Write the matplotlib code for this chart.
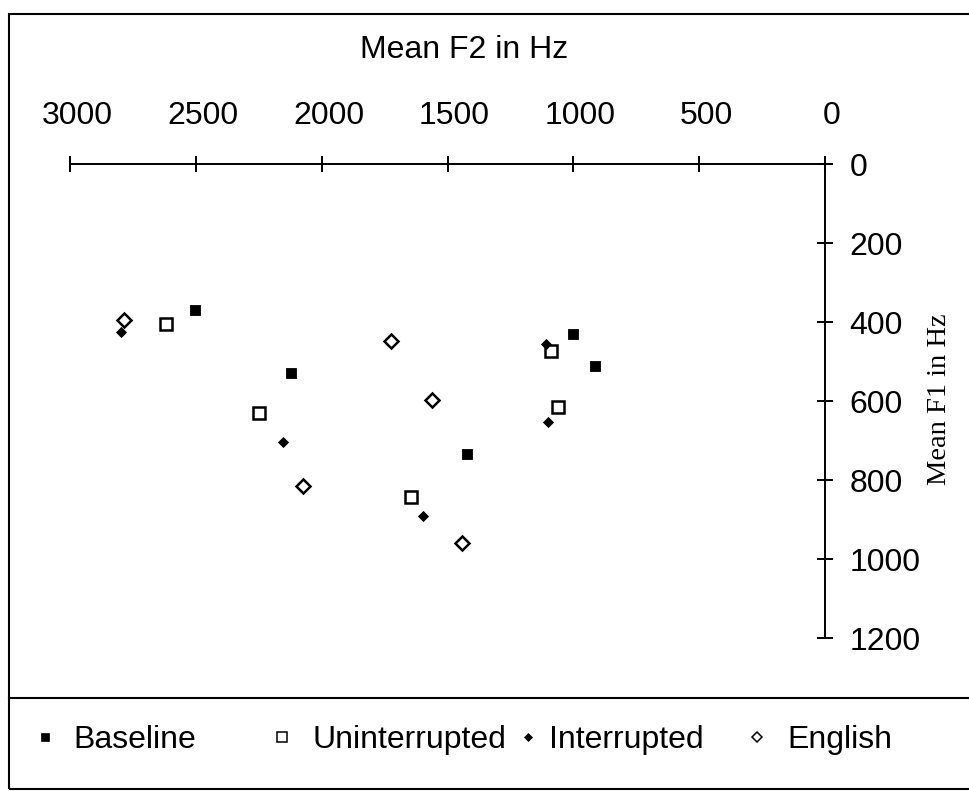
import matplotlib
matplotlib.use("Agg")
import matplotlib.pyplot as plt
from matplotlib.lines import Line2D
from matplotlib.patches import Rectangle
from matplotlib.transforms import ScaledTranslation

plt.rcParams['font.family'] = ['Liberation Sans', 'DejaVu Sans']

# ---- data (Mean F2, Mean F1 in Hz) ----
baseline_f2 = [2503, 2123, 1421, 1002, 914]
baseline_f1 = [369, 529, 734, 430, 511]

uninterrupted_f2 = [2619, 2249, 1645, 1090, 1061]
uninterrupted_f1 = [405, 629, 842, 474, 616]

interrupted_f2 = [2796, 2153, 1597, 1108, 1099]
interrupted_f1 = [425, 704, 890, 455, 654]

english_f2 = [2785, 1724, 1561, 2073, 1441]
english_f1 = [394, 447, 597, 816, 959]

x_ticks = [3000, 2500, 2000, 1500, 1000, 500, 0]
y_ticks = [0, 200, 400, 600, 800, 1000, 1200]
series_names = ['Baseline', 'Uninterrupted', 'Interrupted', 'English']

W, H = 970, 791
fig = plt.figure(figsize=(W / 100, H / 100), dpi=100)
fig.patch.set_facecolor('white')

ax = fig.add_axes([70 / W, 1 - 638 / H, 755 / W, (638 - 164.3) / H])
ax.set_facecolor('none')

styles = [
    dict(marker='s', ms=6.5, mfc='black', mec='black', mew=0.6),
    dict(marker='s', ms=8.3, mfc='white', mec='black', mew=1.8),
    dict(marker='D', ms=5.2, mfc='black', mec='black', mew=0.6),
    dict(marker='D', ms=7.4, mfc='white', mec='black', mew=1.8),
]
data = [(baseline_f2, baseline_f1), (uninterrupted_f2, uninterrupted_f1),
        (interrupted_f2, interrupted_f1), (english_f2, english_f1)]
for (xs, ys), st, name in zip(data, styles, series_names):
    ax.plot(xs, ys, ls='none', label=name, clip_on=False, **st)

ax.set_xlim(3000, 0)
ax.set_ylim(1200, 0)
ax.set_xticks(x_ticks)
ax.set_yticks(y_ticks)
ax.set_xticklabels([str(v) for v in x_ticks])
ax.set_yticklabels([str(v) for v in y_ticks])

for s in ['left', 'bottom']:
    ax.spines[s].set_visible(False)
for s in ['top', 'right']:
    ax.spines[s].set_linewidth(1.4)
    ax.spines[s].set_color('black')

ax.xaxis.tick_top()
ax.yaxis.tick_right()
ax.tick_params(axis='x', direction='inout', length=11.5, width=1.4,
               labelsize=23, pad=18, top=True, bottom=False)
ax.tick_params(axis='y', direction='inout', length=11.5, width=1.4,
               labelsize=23, pad=12, right=True, left=False)

# x tick labels sit slightly right of their ticks in the reference
shift = ScaledTranslation(7 / 100, 0, fig.dpi_scale_trans)
for t in ax.xaxis.get_major_ticks():
    t.label2.set_transform(t.label2.get_transform() + shift)

# titles
fig.text(464 / W, 1 - 50 / H, 'Mean F2 in Hz', ha='center', va='center', fontsize=23)
fig.text(940 / W, 1 - 399 / H, 'Mean F1 in Hz', ha='center', va='center',
         rotation=90, fontsize=20.5, family=['Liberation Serif', 'DejaVu Serif'])

# outer border and legend separator
fig.patches.append(Rectangle((9 / W, 1 - 789 / H), 1.05, (789 - 14) / H,
                             transform=fig.transFigure, fill=False,
                             lw=1.5, edgecolor='black', clip_on=False))
fig.add_artist(Line2D([9 / W, 1.05], [1 - 698 / H, 1 - 698 / H],
                      transform=fig.transFigure, color='black', lw=1.5))

# legend (equal-width columns)
leg_styles = [
    dict(marker='s', ms=6.3, mfc='black', mec='black', mew=0.5),
    dict(marker='s', ms=7.6, mfc='white', mec='black', mew=1.1),
    dict(marker='D', ms=4.0, mfc='black', mec='black', mew=0.5),
    dict(marker='D', ms=5.0, mfc='white', mec='black', mew=1.1),
]
marker_x = [45, 282, 528, 757]
text_pads = [0.38, 0.44, 0.17, 0.44]
fs = 23
hl = 1.0
hl_px = hl * fs * 100 / 72
for name, st, mx, tp in zip(series_names, leg_styles, marker_x, text_pads):
    h = Line2D([], [], ls='none', **st)
    fig.legend(handles=[h], labels=[name], loc='center left',
               bbox_to_anchor=((mx - hl_px / 2) / W, 1 - 740 / H),
               frameon=False, fontsize=fs, handlelength=hl,
               handletextpad=tp, borderpad=0, borderaxespad=0)

fig.savefig('out.png', dpi=100, facecolor='white')
